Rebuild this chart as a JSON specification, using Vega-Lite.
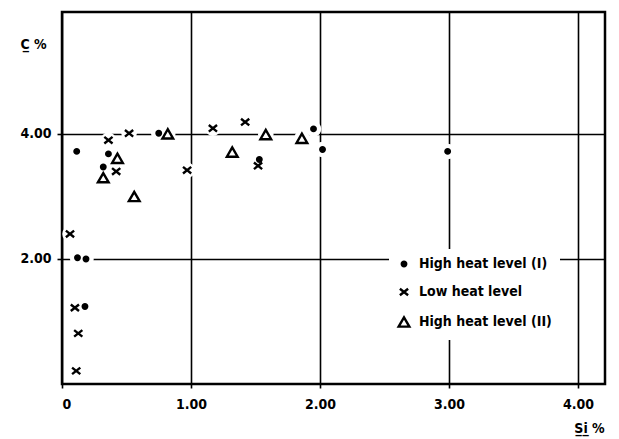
{
  "$schema": "https://vega.github.io/schema/vega-lite/v6.json",
  "width": 543,
  "height": 372,
  "autosize": {"type": "none"},
  "padding": {"left": 62, "top": 12, "right": 14, "bottom": 55},
  "background": "white",
  "config": {
    "view": {"stroke": "black", "strokeWidth": 2.5},
    "font": "DejaVu Sans Condensed"
  },
  "data": {
    "values": [
      {"si": 0.114, "c": 3.72, "series": "High heat level (I)"},
      {"si": 0.75, "c": 4.01, "series": "High heat level (I)"},
      {"si": 0.36, "c": 3.68, "series": "High heat level (I)"},
      {"si": 0.32, "c": 3.47, "series": "High heat level (I)"},
      {"si": 1.53, "c": 3.59, "series": "High heat level (I)"},
      {"si": 1.95, "c": 4.08, "series": "High heat level (I)"},
      {"si": 2.02, "c": 3.75, "series": "High heat level (I)"},
      {"si": 2.99, "c": 3.72, "series": "High heat level (I)"},
      {"si": 0.12, "c": 2.02, "series": "High heat level (I)"},
      {"si": 0.186, "c": 2.0, "series": "High heat level (I)"},
      {"si": 0.178, "c": 1.24, "series": "High heat level (I)"},
      {"si": 0.36, "c": 3.9, "series": "Low heat level"},
      {"si": 0.52, "c": 4.01, "series": "Low heat level"},
      {"si": 0.42, "c": 3.4, "series": "Low heat level"},
      {"si": 0.97, "c": 3.42, "series": "Low heat level"},
      {"si": 1.17, "c": 4.09, "series": "Low heat level"},
      {"si": 1.42, "c": 4.19, "series": "Low heat level"},
      {"si": 1.52, "c": 3.49, "series": "Low heat level"},
      {"si": 0.062, "c": 2.4, "series": "Low heat level"},
      {"si": 0.1, "c": 1.22, "series": "Low heat level"},
      {"si": 0.126, "c": 0.81, "series": "Low heat level"},
      {"si": 0.11, "c": 0.21, "series": "Low heat level"},
      {"si": 0.82, "c": 4.0, "series": "High heat level (II)"},
      {"si": 0.43, "c": 3.61, "series": "High heat level (II)"},
      {"si": 0.32, "c": 3.3, "series": "High heat level (II)"},
      {"si": 0.56, "c": 3.0, "series": "High heat level (II)"},
      {"si": 1.32, "c": 3.71, "series": "High heat level (II)"},
      {"si": 1.58, "c": 3.99, "series": "High heat level (II)"},
      {"si": 1.86, "c": 3.93, "series": "High heat level (II)"}
    ]
  },
  "layer": [
    {
      "mark": {"type": "point", "shape": "circle", "filled": true, "color": "white", "size": 240, "opacity": 1},
      "encoding": {
        "x": {
          "field": "si", "type": "quantitative",
          "scale": {"domain": [0, 4.21], "nice": false, "zero": false},
          "axis": {
            "title": "S̲i̲ %",
            "values": [0, 1, 2, 3, 4],
            "labelExpr": "datum.value == 0 ? '0' : format(datum.value, '.2f')",
            "grid": true, "gridColor": "black", "gridWidth": 1.6, "gridOpacity": 1,
            "domain": false,
            "ticks": true, "tickColor": "black", "tickSize": 4, "tickWidth": 1.6,
            "labelFont": "DejaVu Sans Condensed", "labelFontWeight": "bold", "labelFontSize": 14, "labelColor": "black", "labelPadding": 9,
            "titleFont": "DejaVu Sans Condensed", "titleFontWeight": "bold", "titleFontSize": 14, "titleColor": "black",
            "titleAnchor": "start", "titleAlign": "center", "titleBaseline": "alphabetic",
            "titleX": 527, "titleY": 48
          }
        },
        "y": {
          "field": "c", "type": "quantitative",
          "scale": {"domain": [0, 5.95], "nice": false, "zero": false},
          "axis": {
            "title": "C̲ %",
            "values": [2, 4],
            "format": ".2f",
            "grid": true, "gridColor": "black", "gridWidth": 1.6, "gridOpacity": 1,
            "domain": false,
            "ticks": true, "tickColor": "black", "tickSize": 5, "tickWidth": 1.6,
            "labelFont": "DejaVu Sans Condensed", "labelFontWeight": "bold", "labelFontSize": 14, "labelColor": "black", "labelPadding": 6,
            "titleFont": "DejaVu Sans Condensed", "titleFontWeight": "bold", "titleFontSize": 14, "titleColor": "black",
            "titleAngle": 0, "titleAnchor": "start", "titleAlign": "center", "titleBaseline": "alphabetic",
            "titleX": -29, "titleY": 36
          }
        }
      }
    },
    {
      "mark": {"type": "point", "stroke": "black", "strokeWidth": 2.4, "opacity": 1},
      "encoding": {
        "x": {"field": "si", "type": "quantitative"},
        "y": {"field": "c", "type": "quantitative"},
        "shape": {
          "field": "series", "type": "nominal",
          "scale": {
            "domain": ["High heat level (I)", "Low heat level", "High heat level (II)"],
            "range": ["circle", "M-1,-0.8L1,0.8M-1,0.8L1,-0.8", "triangle-up"]
          },
          "legend": {
            "title": null,
            "orient": "none", "legendX": 327, "legendY": 237,
            "fillColor": "white", "padding": 8,
            "labelFont": "DejaVu Sans Condensed", "labelFontWeight": "bold", "labelFontSize": 14, "labelColor": "black",
            "rowPadding": 11, "labelOffset": 8,
            "symbolStrokeColor": "black", "symbolStrokeWidth": 2.4
          }
        },
        "fill": {
          "field": "series", "type": "nominal",
          "scale": {
            "domain": ["High heat level (I)", "Low heat level", "High heat level (II)"],
            "range": ["black", "transparent", "transparent"]
          }
        },
        "size": {
          "field": "series", "type": "nominal",
          "scale": {
            "domain": ["High heat level (I)", "Low heat level", "High heat level (II)"],
            "range": [20, 115, 70]
          }
        }
      }
    }
  ]
}
